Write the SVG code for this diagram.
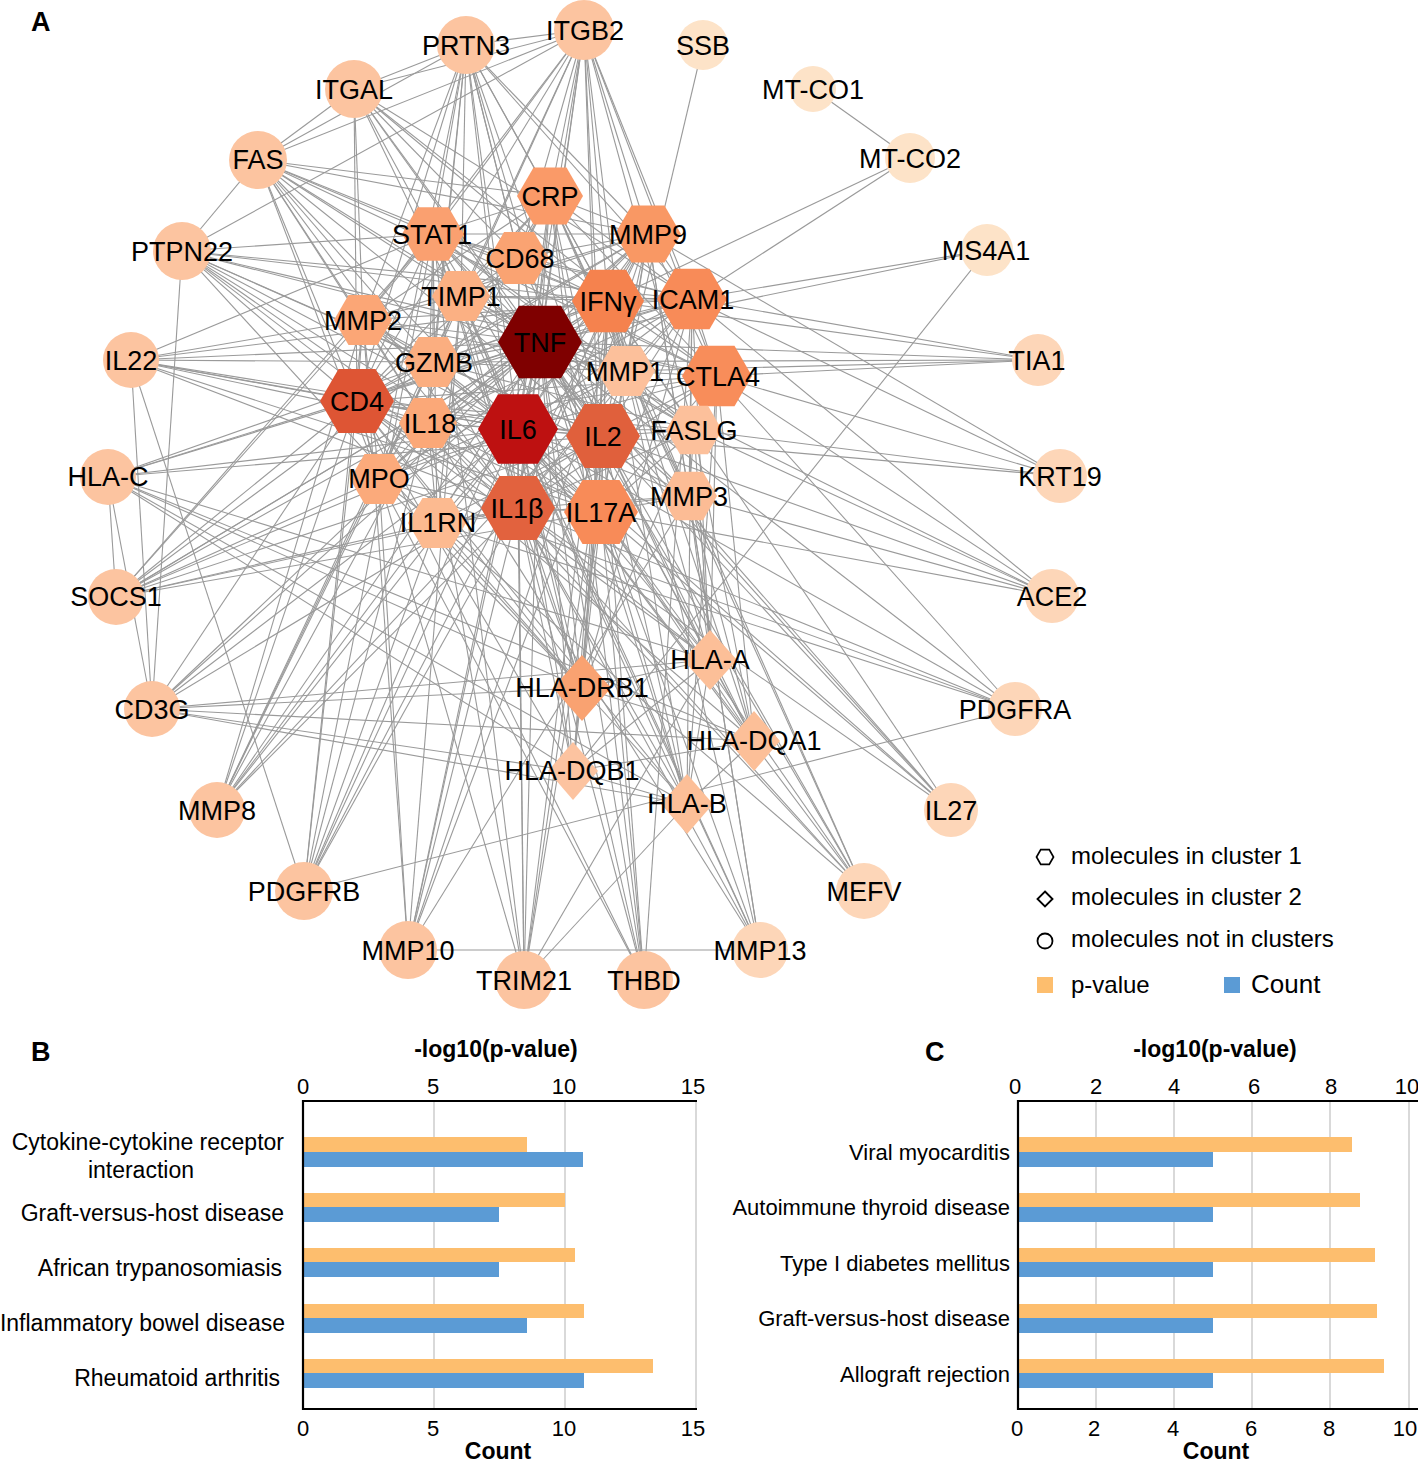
<svg xmlns="http://www.w3.org/2000/svg" xmlns:xlink="http://www.w3.org/1999/xlink" width="1418" height="1464" viewBox="0 0 1418 1464">
<style>
text{font-family:"Liberation Sans",Arial,sans-serif;fill:#000}
.lbl{font-size:27px;text-anchor:middle}
#edges path{stroke:#9a9a9a;stroke-width:1.1;fill:none}
.panel{font-size:27px;font-weight:bold}
.ttl{font-size:23px;font-weight:bold;text-anchor:middle}
.tick{font-size:22px;text-anchor:middle}
.catB{font-size:23px;text-anchor:end}
.catC{font-size:22px;text-anchor:end}
.leg{font-size:24px}
.grid{stroke:#d9d9d9;stroke-width:2}
.axis{stroke:#000;stroke-width:2.2;fill:none}
.po{fill:#fdbe6e}
.pb{fill:#5b9bd5}
.c1{fill:#fcc4a0}
.c2{fill:#fdd6b8}
.c3{fill:#fde3c8}
</style>
<defs>
<polygon id="hex" points="1,0 0.5,0.866 -0.5,0.866 -1,0 -0.5,-0.866 0.5,-0.866"/>
<polygon id="dia" points="0,-1 1,0 0,1 -1,0"/>
</defs>
<rect width="1418" height="1464" fill="#fff"/>
<text class="panel" x="31" y="31">A</text>

<g id="edges">
<path d="M540 342L518 429"/><path d="M540 342L603 436"/><path d="M540 342L518 508"/><path d="M540 342L601 512"/><path d="M540 342L357 401"/><path d="M540 342L717 376"/><path d="M540 342L692 299"/><path d="M540 342L608 301"/><path d="M540 342L648 234"/><path d="M540 342L550 196"/><path d="M540 342L433 234"/><path d="M540 342L519 258"/><path d="M540 342L461 296"/><path d="M540 342L363 320"/><path d="M540 342L433 362"/><path d="M540 342L428 423"/><path d="M540 342L379 479"/><path d="M540 342L437 523"/><path d="M540 342L626 371"/><path d="M540 342L694 430"/><path d="M540 342L689 496"/>
<path d="M518 429L603 436"/><path d="M518 429L518 508"/><path d="M518 429L601 512"/><path d="M518 429L357 401"/><path d="M518 429L717 376"/><path d="M518 429L692 299"/><path d="M518 429L608 301"/><path d="M518 429L648 234"/><path d="M518 429L550 196"/><path d="M518 429L433 234"/><path d="M518 429L519 258"/><path d="M518 429L461 296"/><path d="M518 429L363 320"/><path d="M518 429L433 362"/><path d="M518 429L428 423"/><path d="M518 429L379 479"/><path d="M518 429L437 523"/><path d="M518 429L626 371"/><path d="M518 429L694 430"/><path d="M518 429L689 496"/>
<path d="M518 508L603 436"/><path d="M518 508L601 512"/><path d="M518 508L357 401"/><path d="M518 508L717 376"/><path d="M518 508L692 299"/><path d="M518 508L608 301"/><path d="M518 508L648 234"/><path d="M518 508L550 196"/><path d="M518 508L433 234"/><path d="M518 508L519 258"/><path d="M518 508L461 296"/><path d="M518 508L363 320"/><path d="M518 508L433 362"/><path d="M518 508L428 423"/><path d="M518 508L379 479"/><path d="M518 508L437 523"/><path d="M518 508L626 371"/><path d="M518 508L689 496"/><path d="M518 508L694 430"/>
<path d="M603 436L601 512"/><path d="M603 436L357 401"/><path d="M603 436L717 376"/><path d="M603 436L692 299"/><path d="M603 436L608 301"/><path d="M603 436L433 234"/><path d="M603 436L433 362"/><path d="M603 436L428 423"/><path d="M603 436L694 430"/><path d="M603 436L550 196"/><path d="M603 436L648 234"/><path d="M603 436L437 523"/><path d="M603 436L519 258"/>
<path d="M357 401L601 512"/><path d="M357 401L717 376"/><path d="M357 401L692 299"/><path d="M357 401L608 301"/><path d="M357 401L433 234"/><path d="M357 401L519 258"/><path d="M357 401L433 362"/><path d="M357 401L428 423"/><path d="M357 401L694 430"/><path d="M357 401L648 234"/><path d="M357 401L550 196"/><path d="M357 401L379 479"/><path d="M357 401L363 320"/>
<path d="M608 301L601 512"/><path d="M608 301L717 376"/><path d="M608 301L692 299"/><path d="M608 301L433 234"/><path d="M608 301L519 258"/><path d="M608 301L433 362"/><path d="M608 301L428 423"/><path d="M608 301L694 430"/><path d="M608 301L550 196"/><path d="M608 301L648 234"/><path d="M608 301L626 371"/><path d="M608 301L689 496"/><path d="M608 301L461 296"/>
<path d="M601 512L717 376"/><path d="M601 512L692 299"/><path d="M601 512L433 234"/><path d="M601 512L648 234"/><path d="M601 512L550 196"/><path d="M601 512L626 371"/><path d="M601 512L689 496"/><path d="M601 512L428 423"/><path d="M601 512L363 320"/><path d="M601 512L694 430"/><path d="M601 512L433 362"/>
<path d="M692 299L717 376"/><path d="M692 299L433 234"/><path d="M692 299L550 196"/><path d="M692 299L648 234"/><path d="M692 299L519 258"/><path d="M692 299L363 320"/><path d="M692 299L626 371"/><path d="M692 299L689 496"/><path d="M692 299L433 362"/><path d="M692 299L428 423"/><path d="M692 299L461 296"/><path d="M692 299L379 479"/>
<path d="M717 376L433 234"/><path d="M717 376L694 430"/><path d="M717 376L433 362"/><path d="M717 376L550 196"/><path d="M717 376L648 234"/><path d="M717 376L428 423"/>
<path d="M648 234L550 196"/><path d="M648 234L461 296"/><path d="M648 234L363 320"/><path d="M648 234L626 371"/><path d="M648 234L689 496"/><path d="M648 234L379 479"/><path d="M648 234L433 234"/><path d="M648 234L519 258"/><path d="M648 234L428 423"/><path d="M648 234L433 362"/>
<path d="M550 196L433 234"/><path d="M550 196L519 258"/><path d="M550 196L379 479"/><path d="M550 196L363 320"/><path d="M550 196L428 423"/><path d="M550 196L461 296"/><path d="M550 196L626 371"/><path d="M550 196L689 496"/>
<path d="M433 234L519 258"/><path d="M433 234L433 362"/><path d="M433 234L428 423"/><path d="M433 234L363 320"/><path d="M433 234L626 371"/><path d="M433 234L461 296"/><path d="M433 234L694 430"/><path d="M433 234L437 523"/>
<path d="M461 296L363 320"/><path d="M461 296L626 371"/><path d="M461 296L689 496"/><path d="M461 296L519 258"/><path d="M461 296L379 479"/><path d="M461 296L437 523"/>
<path d="M363 320L626 371"/><path d="M363 320L689 496"/><path d="M363 320L379 479"/><path d="M363 320L433 362"/>
<path d="M433 362L428 423"/><path d="M433 362L694 430"/><path d="M433 362L379 479"/>
<path d="M428 423L379 479"/><path d="M428 423L437 523"/><path d="M379 479L437 523"/><path d="M379 479L626 371"/><path d="M626 371L689 496"/><path d="M626 371L694 430"/><path d="M689 496L694 430"/><path d="M689 496L437 523"/>
<path d="M710 660L582 688"/><path d="M710 660L754 741"/><path d="M710 660L573 771"/><path d="M710 660L687 804"/><path d="M710 660L540 342"/><path d="M710 660L518 429"/><path d="M710 660L357 401"/><path d="M710 660L608 301"/><path d="M710 660L603 436"/><path d="M710 660L518 508"/><path d="M710 660L601 512"/><path d="M710 660L717 376"/><path d="M710 660L692 299"/><path d="M710 660L694 430"/><path d="M710 660L152 709"/><path d="M710 660L108 477"/><path d="M710 660L524 980"/><path d="M710 660L689 496"/>
<path d="M582 688L754 741"/><path d="M582 688L573 771"/><path d="M582 688L687 804"/><path d="M582 688L540 342"/><path d="M582 688L518 429"/><path d="M582 688L357 401"/><path d="M582 688L608 301"/><path d="M582 688L603 436"/><path d="M582 688L518 508"/><path d="M582 688L601 512"/><path d="M582 688L717 376"/><path d="M582 688L692 299"/><path d="M582 688L437 523"/><path d="M582 688L379 479"/><path d="M582 688L152 709"/><path d="M582 688L108 477"/><path d="M582 688L433 234"/><path d="M582 688L182 251"/>
<path d="M754 741L573 771"/><path d="M754 741L687 804"/><path d="M754 741L540 342"/><path d="M754 741L518 429"/><path d="M754 741L357 401"/><path d="M754 741L608 301"/><path d="M754 741L603 436"/><path d="M754 741L717 376"/><path d="M754 741L601 512"/><path d="M754 741L152 709"/><path d="M754 741L108 477"/><path d="M754 741L689 496"/><path d="M754 741L694 430"/>
<path d="M573 771L687 804"/><path d="M573 771L540 342"/><path d="M573 771L518 429"/><path d="M573 771L357 401"/><path d="M573 771L608 301"/><path d="M573 771L603 436"/><path d="M573 771L518 508"/><path d="M573 771L152 709"/><path d="M573 771L108 477"/><path d="M573 771L987 250"/>
<path d="M687 804L540 342"/><path d="M687 804L518 429"/><path d="M687 804L357 401"/><path d="M687 804L608 301"/><path d="M687 804L603 436"/><path d="M687 804L518 508"/><path d="M687 804L601 512"/><path d="M687 804L717 376"/><path d="M687 804L692 299"/><path d="M687 804L152 709"/><path d="M687 804L108 477"/><path d="M687 804L524 980"/>
<path d="M466 45L354 89"/><path d="M466 45L584 30"/><path d="M466 45L433 234"/><path d="M466 45L519 258"/><path d="M466 45L461 296"/><path d="M466 45L550 196"/><path d="M466 45L540 342"/><path d="M466 45L518 429"/><path d="M466 45L518 508"/><path d="M466 45L379 479"/><path d="M466 45L648 234"/><path d="M466 45L692 299"/><path d="M466 45L608 301"/><path d="M466 45L433 362"/><path d="M466 45L428 423"/><path d="M466 45L357 401"/><path d="M466 45L603 436"/><path d="M466 45L363 320"/><path d="M466 45L601 512"/>
<path d="M584 30L354 89"/><path d="M584 30L182 251"/><path d="M584 30L433 234"/><path d="M584 30L519 258"/><path d="M584 30L550 196"/><path d="M584 30L540 342"/><path d="M584 30L518 429"/><path d="M584 30L608 301"/><path d="M584 30L692 299"/><path d="M584 30L648 234"/><path d="M584 30L717 376"/><path d="M584 30L518 508"/><path d="M584 30L601 512"/><path d="M584 30L357 401"/><path d="M584 30L363 320"/><path d="M584 30L461 296"/><path d="M584 30L603 436"/><path d="M584 30L626 371"/><path d="M584 30L694 430"/><path d="M584 30L433 362"/><path d="M584 30L258 160"/>
<path d="M703 45L626 371"/><path d="M813 89L910 158"/><path d="M910 158L608 301"/><path d="M910 158L692 299"/>
<path d="M987 250L692 299"/><path d="M987 250L540 342"/>
<path d="M1038 360L717 376"/><path d="M1038 360L626 371"/><path d="M1038 360L433 362"/><path d="M1038 360L540 342"/><path d="M1038 360L692 299"/><path d="M1038 360L608 301"/>
<path d="M1060 476L717 376"/><path d="M1060 476L694 430"/><path d="M1060 476L603 436"/><path d="M1060 476L692 299"/><path d="M1060 476L648 234"/>
<path d="M1052 596L689 496"/><path d="M1052 596L601 512"/><path d="M1052 596L603 436"/><path d="M1052 596L694 430"/><path d="M1052 596L717 376"/><path d="M1052 596L692 299"/><path d="M1052 596L540 342"/>
<path d="M1015 709L304 891"/><path d="M1015 709L437 523"/><path d="M1015 709L379 479"/><path d="M1015 709L518 508"/><path d="M1015 709L518 429"/><path d="M1015 709L540 342"/><path d="M1015 709L717 376"/>
<path d="M951 810L601 512"/><path d="M951 810L518 429"/><path d="M951 810L608 301"/><path d="M951 810L603 436"/><path d="M951 810L540 342"/><path d="M951 810L433 234"/><path d="M951 810L518 508"/>
<path d="M864 891L518 508"/><path d="M864 891L428 423"/><path d="M864 891L518 429"/><path d="M864 891L540 342"/><path d="M864 891L437 523"/><path d="M864 891L601 512"/><path d="M864 891L603 436"/><path d="M864 891L550 196"/><path d="M864 891L689 496"/>
<path d="M760 950L408 950"/><path d="M760 950L626 371"/><path d="M760 950L689 496"/><path d="M760 950L648 234"/><path d="M760 950L363 320"/><path d="M760 950L461 296"/><path d="M760 950L518 508"/><path d="M760 950L518 429"/><path d="M760 950L540 342"/>
<path d="M644 980L540 342"/><path d="M644 980L518 429"/><path d="M644 980L550 196"/><path d="M644 980L518 508"/><path d="M644 980L601 512"/><path d="M644 980L603 436"/><path d="M644 980L357 401"/><path d="M644 980L379 479"/><path d="M644 980L692 299"/>
<path d="M524 980L518 429"/><path d="M524 980L540 342"/><path d="M524 980L518 508"/><path d="M524 980L433 234"/><path d="M524 980L608 301"/><path d="M524 980L603 436"/><path d="M524 980L601 512"/><path d="M524 980L357 401"/><path d="M524 980L428 423"/>
<path d="M408 950L626 371"/><path d="M408 950L363 320"/><path d="M408 950L689 496"/><path d="M408 950L648 234"/><path d="M408 950L461 296"/><path d="M408 950L518 508"/><path d="M408 950L540 342"/><path d="M408 950L518 429"/><path d="M408 950L379 479"/>
<path d="M304 891L131 360"/><path d="M304 891L363 320"/><path d="M304 891L648 234"/><path d="M304 891L540 342"/><path d="M304 891L518 508"/><path d="M304 891L518 429"/><path d="M304 891L433 234"/><path d="M304 891L437 523"/><path d="M304 891L357 401"/><path d="M304 891L428 423"/>
<path d="M217 810L363 320"/><path d="M217 810L461 296"/><path d="M217 810L648 234"/><path d="M217 810L518 429"/><path d="M217 810L540 342"/><path d="M217 810L518 508"/><path d="M217 810L357 401"/><path d="M217 810L379 479"/><path d="M217 810L428 423"/><path d="M217 810L433 362"/><path d="M217 810L626 371"/>
<path d="M152 709L357 401"/><path d="M152 709L182 251"/><path d="M152 709L108 477"/><path d="M152 709L131 360"/><path d="M152 709L540 342"/><path d="M152 709L603 436"/><path d="M152 709L608 301"/><path d="M152 709L518 429"/>
<path d="M116 597L433 234"/><path d="M116 597L357 401"/><path d="M116 597L518 429"/><path d="M116 597L540 342"/><path d="M116 597L603 436"/><path d="M116 597L608 301"/><path d="M116 597L428 423"/><path d="M116 597L433 362"/><path d="M116 597L363 320"/><path d="M116 597L518 508"/><path d="M116 597L601 512"/><path d="M116 597L379 479"/><path d="M116 597L437 523"/><path d="M116 597L108 477"/>
<path d="M108 477L357 401"/><path d="M108 477L540 342"/><path d="M108 477L608 301"/><path d="M108 477L518 429"/><path d="M108 477L603 436"/>
<path d="M131 360L433 362"/><path d="M131 360L540 342"/><path d="M131 360L518 429"/><path d="M131 360L357 401"/><path d="M131 360L428 423"/><path d="M131 360L603 436"/><path d="M131 360L601 512"/><path d="M131 360L518 508"/><path d="M131 360L433 234"/><path d="M131 360L363 320"/><path d="M131 360L608 301"/>
<path d="M182 251L357 401"/><path d="M182 251L518 429"/><path d="M182 251L540 342"/><path d="M182 251L603 436"/><path d="M182 251L608 301"/><path d="M182 251L433 234"/><path d="M182 251L601 512"/><path d="M182 251L717 376"/><path d="M182 251L258 160"/><path d="M182 251L518 508"/><path d="M182 251L428 423"/><path d="M182 251L433 362"/><path d="M182 251L692 299"/>
<path d="M258 160L354 89"/><path d="M258 160L466 45"/><path d="M258 160L433 234"/><path d="M258 160L357 401"/><path d="M258 160L540 342"/><path d="M258 160L518 429"/><path d="M258 160L717 376"/><path d="M258 160L603 436"/><path d="M258 160L518 508"/><path d="M258 160L363 320"/><path d="M258 160L433 362"/><path d="M258 160L694 430"/><path d="M258 160L428 423"/><path d="M258 160L608 301"/><path d="M258 160L379 479"/><path d="M258 160L648 234"/><path d="M258 160L550 196"/>
<path d="M354 89L692 299"/><path d="M354 89L433 234"/><path d="M354 89L540 342"/><path d="M354 89L519 258"/><path d="M354 89L363 320"/><path d="M354 89L357 401"/><path d="M354 89L518 429"/><path d="M354 89L608 301"/><path d="M354 89L603 436"/><path d="M354 89L717 376"/>
</g>

<g id="node-PRTN3"><circle class="c1" cx="466" cy="45" r="29"/><text class="lbl" x="466" y="55">PRTN3</text></g>
<g id="node-ITGB2"><circle class="c1" cx="584" cy="30" r="30"/><text class="lbl" x="585" y="40">ITGB2</text></g>
<g id="node-SSB"><circle class="c3" cx="703" cy="45" r="25"/><text class="lbl" x="703" y="55">SSB</text></g>
<g id="node-MT-CO1"><circle class="c3" cx="813" cy="89" r="23"/><text class="lbl" x="813" y="99">MT-CO1</text></g>
<g id="node-MT-CO2"><circle class="c3" cx="910" cy="158" r="25"/><text class="lbl" x="910" y="168">MT-CO2</text></g>
<g id="node-MS4A1"><circle class="c3" cx="987" cy="250" r="26"/><text class="lbl" x="986" y="260">MS4A1</text></g>
<g id="node-TIA1"><circle class="c2" cx="1038" cy="360" r="26"/><text class="lbl" x="1037" y="370">TIA1</text></g>
<g id="node-KRT19"><circle class="c2" cx="1060" cy="476" r="27"/><text class="lbl" x="1060" y="486">KRT19</text></g>
<g id="node-ACE2"><circle class="c2" cx="1052" cy="596" r="27"/><text class="lbl" x="1052" y="606">ACE2</text></g>
<g id="node-PDGFRA"><circle class="c2" cx="1015" cy="709" r="27"/><text class="lbl" x="1015" y="719">PDGFRA</text></g>
<g id="node-IL27"><circle class="c2" cx="951" cy="810" r="27"/><text class="lbl" x="951" y="820">IL27</text></g>
<g id="node-MEFV"><circle class="c2" cx="864" cy="891" r="28"/><text class="lbl" x="864" y="901">MEFV</text></g>
<g id="node-MMP13"><circle class="c2" cx="760" cy="950" r="28"/><text class="lbl" x="760" y="960">MMP13</text></g>
<g id="node-THBD"><circle class="c1" cx="644" cy="980" r="29"/><text class="lbl" x="644" y="990">THBD</text></g>
<g id="node-TRIM21"><circle class="c1" cx="524" cy="980" r="29"/><text class="lbl" x="524" y="990">TRIM21</text></g>
<g id="node-MMP10"><circle class="c1" cx="408" cy="950" r="29"/><text class="lbl" x="408" y="960">MMP10</text></g>
<g id="node-PDGFRB"><circle class="c1" cx="304" cy="891" r="29"/><text class="lbl" x="304" y="901">PDGFRB</text></g>
<g id="node-MMP8"><circle class="c1" cx="217" cy="810" r="28"/><text class="lbl" x="217" y="820">MMP8</text></g>
<g id="node-CD3G"><circle class="c1" cx="152" cy="709" r="28"/><text class="lbl" x="152" y="719">CD3G</text></g>
<g id="node-SOCS1"><circle class="c1" cx="116" cy="597" r="28"/><text class="lbl" x="116" y="606">SOCS1</text></g>
<g id="node-HLA-C"><circle class="c1" cx="108" cy="477" r="28"/><text class="lbl" x="108" y="486">HLA-C</text></g>
<g id="node-IL22"><circle class="c1" cx="131" cy="360" r="28"/><text class="lbl" x="131" y="370">IL22</text></g>
<g id="node-PTPN22"><circle class="c1" cx="182" cy="251" r="29"/><text class="lbl" x="182" y="261">PTPN22</text></g>
<g id="node-FAS"><circle class="c1" cx="258" cy="160" r="29"/><text class="lbl" x="258" y="169">FAS</text></g>
<g id="node-ITGAL"><circle class="c1" cx="354" cy="89" r="29"/><text class="lbl" x="354" y="99">ITGAL</text></g>

<g id="node-CRP"><use href="#hex" transform="translate(550 196) scale(33)" fill="#fa9a68"/><text class="lbl" x="550" y="206">CRP</text></g>
<g id="node-MMP9"><use href="#hex" transform="translate(648 234) scale(33)" fill="#f99864"/><text class="lbl" x="648" y="244">MMP9</text></g>
<g id="node-STAT1"><use href="#hex" transform="translate(433 234) scale(31)" fill="#faa070"/><text class="lbl" x="432" y="244">STAT1</text></g>
<g id="node-CD68"><use href="#hex" transform="translate(519 258) scale(30)" fill="#faa372"/><text class="lbl" x="520" y="268">CD68</text></g>
<g id="node-TIMP1"><use href="#hex" transform="translate(461 296) scale(29)" fill="#fbb083"/><text class="lbl" x="461" y="306">TIMP1</text></g>
<g id="node-MMP2"><use href="#hex" transform="translate(363 320) scale(29)" fill="#fba676"/><text class="lbl" x="363" y="330">MMP2</text></g>
<g id="node-IFNG"><use href="#hex" transform="translate(608 301) scale(36)" fill="#f5824e"/><text class="lbl" x="608" y="311">IFNγ</text></g>
<g id="node-ICAM1"><use href="#hex" transform="translate(692 299) scale(35)" fill="#f88b58"/><text class="lbl" x="693" y="309">ICAM1</text></g>
<g id="node-TNF"><use href="#hex" transform="translate(540 342) scale(42)" fill="#7f0000"/><text class="lbl" x="540" y="352">TNF</text></g>
<g id="node-GZMB"><use href="#hex" transform="translate(433 362) scale(29)" fill="#fbae80"/><text class="lbl" x="434" y="372">GZMB</text></g>
<g id="node-MMP1"><use href="#hex" transform="translate(626 371) scale(29)" fill="#fcc09b"/><text class="lbl" x="625" y="381">MMP1</text></g>
<g id="node-CTLA4"><use href="#hex" transform="translate(717 376) scale(35)" fill="#f88d5a"/><text class="lbl" x="718" y="386">CTLA4</text></g>
<g id="node-CD4"><use href="#hex" transform="translate(357 401) scale(37)" fill="#de5534"/><text class="lbl" x="357" y="411">CD4</text></g>
<g id="node-IL18"><use href="#hex" transform="translate(428 423) scale(29)" fill="#fba878"/><text class="lbl" x="430" y="433">IL18</text></g>
<g id="node-IL6"><use href="#hex" transform="translate(518 429) scale(40)" fill="#be1111"/><text class="lbl" x="518" y="439">IL6</text></g>
<g id="node-IL2"><use href="#hex" transform="translate(603 436) scale(37)" fill="#e0603c"/><text class="lbl" x="603" y="446">IL2</text></g>
<g id="node-FASLG"><use href="#hex" transform="translate(694 430) scale(28)" fill="#fcc09b"/><text class="lbl" x="694" y="440">FASLG</text></g>
<g id="node-MPO"><use href="#hex" transform="translate(379 479) scale(29)" fill="#fbaa7b"/><text class="lbl" x="379" y="488">MPO</text></g>
<g id="node-MMP3"><use href="#hex" transform="translate(689 496) scale(28)" fill="#fcbc95"/><text class="lbl" x="689" y="506">MMP3</text></g>
<g id="node-IL1B"><use href="#hex" transform="translate(518 508) scale(37)" fill="#e2623e"/><text class="lbl" x="517" y="518">IL1β</text></g>
<g id="node-IL17A"><use href="#hex" transform="translate(601 512) scale(37)" fill="#f88b58"/><text class="lbl" x="601" y="522">IL17A</text></g>
<g id="node-IL1RN"><use href="#hex" transform="translate(437 523) scale(29)" fill="#fcba90"/><text class="lbl" x="438" y="532">IL1RN</text></g>

<g id="node-HLA-A"><use href="#dia" transform="translate(710 660) scale(27 30)" fill="#fcbf98"/><text class="lbl" x="710" y="669">HLA-A</text></g>
<g id="node-HLA-DRB1"><use href="#dia" transform="translate(582 688) scale(29 33)" fill="#f9a271"/><text class="lbl" x="582" y="697">HLA-DRB1</text></g>
<g id="node-HLA-DQA1"><use href="#dia" transform="translate(754 741) scale(26 30)" fill="#fcbf98"/><text class="lbl" x="754" y="750">HLA-DQA1</text></g>
<g id="node-HLA-DQB1"><use href="#dia" transform="translate(573 771) scale(25 29)" fill="#fcc3a0"/><text class="lbl" x="572" y="780">HLA-DQB1</text></g>
<g id="node-HLA-B"><use href="#dia" transform="translate(687 804) scale(26 30)" fill="#fcbf98"/><text class="lbl" x="687" y="813">HLA-B</text></g>

<g id="legend">
<use href="#hex" transform="translate(1045 857) scale(8.5)" fill="none" stroke="#000" stroke-width="0.2"/>
<text class="leg" x="1071" y="864">molecules in cluster 1</text>
<use href="#dia" transform="translate(1045 899) scale(7.5)" fill="none" stroke="#000" stroke-width="0.25"/>
<text class="leg" x="1071" y="905">molecules in cluster 2</text>
<circle cx="1045" cy="941" r="7.5" fill="none" stroke="#000" stroke-width="1.8"/>
<text class="leg" x="1071" y="947">molecules not in clusters</text>
<rect class="po" x="1037" y="977" width="16" height="16"/>
<text class="leg" x="1071" y="993">p-value</text>
<rect class="pb" x="1224" y="977" width="16" height="16"/>
<text x="1251" y="993" style="font-size:26px">Count</text>
</g>

<g id="chartB">
<text class="panel" x="31" y="1061">B</text>
<text class="ttl" x="496" y="1057">-log10(p-value)</text>
<line class="grid" x1="434" y1="1101" x2="434" y2="1409"/>
<line class="grid" x1="565" y1="1101" x2="565" y2="1409"/>
<line class="grid" x1="696" y1="1101" x2="696" y2="1409"/>
<rect class="po" x="303" y="1137" width="224" height="15"/>
<rect class="pb" x="303" y="1152" width="280" height="15"/>
<rect class="po" x="303" y="1193" width="262" height="14"/>
<rect class="pb" x="303" y="1207" width="196" height="15"/>
<rect class="po" x="303" y="1248" width="272" height="14"/>
<rect class="pb" x="303" y="1262" width="196" height="15"/>
<rect class="po" x="303" y="1304" width="281" height="14"/>
<rect class="pb" x="303" y="1318" width="224" height="15"/>
<rect class="po" x="303" y="1359" width="350" height="14"/>
<rect class="pb" x="303" y="1373" width="281" height="15"/>
<path class="axis" d="M697 1101H303V1409H697"/>
<text class="tick" x="303" y="1094">0</text><text class="tick" x="433" y="1094">5</text><text class="tick" x="564" y="1094">10</text><text class="tick" x="693" y="1094">15</text>
<text class="tick" x="303" y="1436">0</text><text class="tick" x="433" y="1436">5</text><text class="tick" x="564" y="1436">10</text><text class="tick" x="693" y="1436">15</text>
<text class="catB" x="284" y="1150">Cytokine-cytokine receptor</text>
<text class="catB" x="194" y="1178">interaction</text>
<text class="catB" x="284" y="1221">Graft-versus-host disease</text>
<text class="catB" x="282" y="1276">African trypanosomiasis</text>
<text class="catB" x="285" y="1331">Inflammatory bowel disease</text>
<text class="catB" x="280" y="1386">Rheumatoid arthritis</text>
<text class="ttl" x="498" y="1459">Count</text>
</g>

<g id="chartC">
<text class="panel" x="925" y="1061">C</text>
<text class="ttl" x="1215" y="1057">-log10(p-value)</text>
<line class="grid" x1="1096" y1="1101" x2="1096" y2="1409"/>
<line class="grid" x1="1174" y1="1101" x2="1174" y2="1409"/>
<line class="grid" x1="1252" y1="1101" x2="1252" y2="1409"/>
<line class="grid" x1="1330" y1="1101" x2="1330" y2="1409"/>
<line class="grid" x1="1409" y1="1101" x2="1409" y2="1409"/>
<rect class="po" x="1018" y="1137" width="334" height="15"/>
<rect class="pb" x="1018" y="1152" width="195" height="15"/>
<rect class="po" x="1018" y="1193" width="342" height="14"/>
<rect class="pb" x="1018" y="1207" width="195" height="15"/>
<rect class="po" x="1018" y="1248" width="357" height="14"/>
<rect class="pb" x="1018" y="1262" width="195" height="15"/>
<rect class="po" x="1018" y="1304" width="359" height="14"/>
<rect class="pb" x="1018" y="1318" width="195" height="15"/>
<rect class="po" x="1018" y="1359" width="366" height="14"/>
<rect class="pb" x="1018" y="1373" width="195" height="15"/>
<path class="axis" d="M1418 1101H1018V1409H1418"/>
<text class="tick" x="1015" y="1094">0</text><text class="tick" x="1096" y="1094">2</text><text class="tick" x="1174" y="1094">4</text><text class="tick" x="1254" y="1094">6</text><text class="tick" x="1331" y="1094">8</text><text class="tick" x="1407" y="1094">10</text>
<text class="tick" x="1017" y="1436">0</text><text class="tick" x="1094" y="1436">2</text><text class="tick" x="1173" y="1436">4</text><text class="tick" x="1251" y="1436">6</text><text class="tick" x="1329" y="1436">8</text><text class="tick" x="1405" y="1436">10</text>
<text class="catC" x="1010" y="1160">Viral myocarditis</text>
<text class="catC" x="1010" y="1215">Autoimmune thyroid disease</text>
<text class="catC" x="1010" y="1271">Type I diabetes mellitus</text>
<text class="catC" x="1010" y="1326">Graft-versus-host disease</text>
<text class="catC" x="1010" y="1382">Allograft rejection</text>
<text class="ttl" x="1216" y="1459">Count</text>
</g>
</svg>
